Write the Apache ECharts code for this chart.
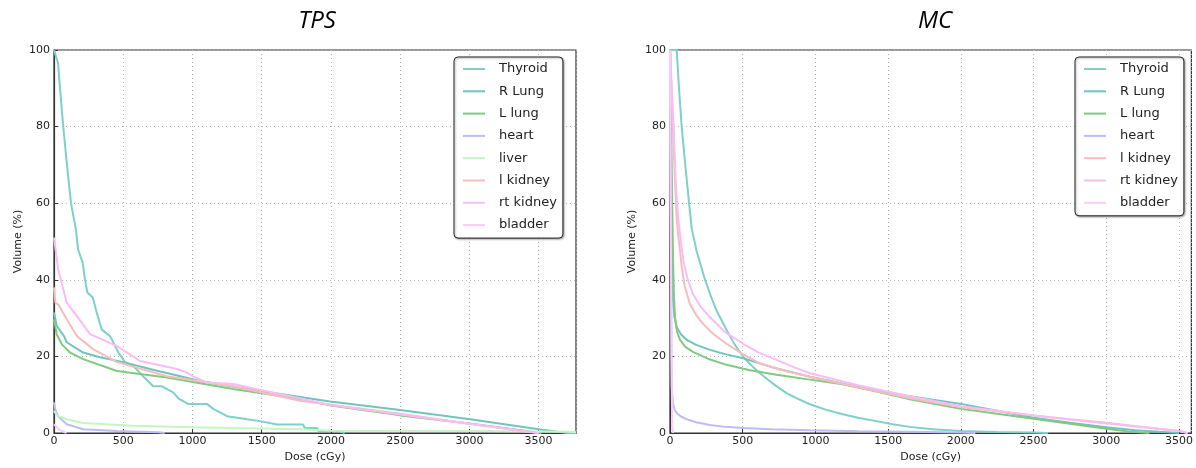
<!DOCTYPE html>
<html>
<head>
<meta charset="utf-8">
<script src="https://cdn.jsdelivr.net/npm/echarts@6/dist/echarts.min.js"></script>
<style>
html, body { margin: 0; padding: 0; background: #fff; }
#chart { width: 1196px; height: 468px; }
</style>
</head>
<body>
<div id="chart"></div>
<script>
// organ names, in legend order
var tpsNames = ['Thyroid', 'R Lung', 'L lung', 'heart', 'liver', 'l kidney', 'rt kidney', 'bladder'];
var mcNames = ['Thyroid', 'R Lung', 'L lung', 'heart', 'l kidney', 'rt kidney', 'bladder'];

var organColors = {
	'Thyroid': '#7fd0c9',
	'R Lung': '#6fc5be',
	'L lung': '#7fca7f',
	'heart': '#bcbcf7',
	'liver': '#c2f7c2',
	'l kidney': '#f8bcbc',
	'rt kidney': '#f8bcf8',
	'bladder': '#fbcbfb'
};

// TPS  [dose cGy, volume %]
var tpsThyroid = [[0,100],[29,96.6],[58,83.6],[67,80],[92,70.6],[123,60],[145,55.7],[159,53],[174,47.9],[207,44.5],[224,40],
	[241,36.7],[280,35.4],[308,31.5],[345,27],[405,25.3],[465,21],[513,18.5],[571,17.5],[600,16.5],[643,14.8],[716,12.2],
	[780,12.2],[860,10.6],[900,9],[968,7.6],[1105,7.6],[1150,6.3],[1250,4.4],[1394,3.6],[1488,3.1],[1611,2.2],[1800,2.2],
	[1810,1.3],[1900,1.3],[1910,0.5],[2050,0.5],[2100,0]];
var tpsRLung = [[0,31.5],[20,28],[72,25.3],[92,23.7],[210,21],[332,19.8],[500,18.5],[693,16.7],[1055,13.6],[1400,11.5],
	[1777,9.4],[1994,8.2],[2500,6],[3006,3.6],[3512,0.9],[3707,0],[3770,0]];
var tpsLLung = [[0,29.7],[19,25.8],[60,23],[116,21],[210,19.3],[455,16.2],[816,14.5],[1294,11.5],[1777,8.9],[2000,7.2],
	[2500,4.6],[3000,2.5],[3400,0.6],[3520,0]];
var tpsHeart = [[0,8],[10,6],[30,4.4],[92,2.3],[210,1.0],[455,0.5],[750,0.2],[800,0]];
var tpsLiver = [[0,5.8],[20,4.6],[92,3.6],[210,2.6],[571,1.9],[1000,1.5],[1777,1.0],[2000,0.6],[3000,0.5],[3700,0.3],[3770,0.2]];
var tpsLKidney = [[0,38],[10,34],[30,33.6],[92,29.7],[166,25.3],[282,21.9],[455,18.5],[816,14.8],[1294,12.2],[1777,8.4],
	[2000,7.4],[2500,5],[3000,2.4],[3400,0.5],[3500,0]];
var tpsRtKidney = [[0,51],[30,42.7],[92,34],[166,30.5],[260,25.8],[455,22.7],[621,18.8],[889,16.7],[960,15.8],[1004,14.8],
	[1100,13.2],[1294,12.8],[1727,9.4],[2000,7.3],[2500,4.8],[3000,2.4],[3400,0.4],[3500,0]];
var tpsBladder = [[0,2.3],[40,0.8],[90,0]];

// MC  [dose cGy, volume %]
var mcThyroid = [[0,100],[46,100],[62,90],[80,80.2],[105,70],[130,60.5],[149,53.5],[183,47.5],[240,40.1],[280,35.8],[320,32],
	[389,26.9],[440,23.4],[503,19.9],[560,17.6],[618,15.6],[700,13.1],[801,10.4],[880,8.9],[962,7.5],[1070,6.1],[1188,4.9],
	[1300,3.9],[1419,3.1],[1530,2.3],[1648,1.6],[1806,1.0],[2000,0.5],[2250,0.25],[2500,0.1],[2600,0]];
var mcRLung = [[0,100],[4,85],[8,65],[13,45],[20,35],[30,30.5],[46,27.6],[75,25.8],[115,24.3],[180,23],[275,21.7],[380,20.6],
	[503,19.5],[700,17.2],[962,14.7],[1300,12],[1648,9.6],[2000,7.6],[2250,5.8],[2500,4.0],[2750,2.7],[3000,1.5],
	[3200,0.7],[3365,0.3],[3500,0]];
var mcLLung = [[0,100],[8,80],[15,60],[21,45],[27,36],[34,30.2],[48,26.5],[69,24.3],[105,22.5],[158,21.2],[260,19.4],
	[389,17.8],[550,16.4],[733,15.2],[950,14],[1188,12.7],[1420,10.8],[1648,8.8],[2000,6.3],[2250,5],[2500,3.7],[2750,2.4],
	[3000,1.1],[3150,0.4],[3297,0]];
var mcHeart = [[0,100],[6,60],[9,30],[12,12],[20,7.8],[30,6.3],[46,5.2],[75,4.3],[115,3.6],[180,2.8],[275,2.1],[380,1.6],
	[503,1.3],[700,1.0],[962,0.7],[1300,0.45],[1648,0.3],[2000,0.1],[2100,0]];
var mcLKidney = [[0,100],[20,80],[35,65],[46,56],[58,51],[69,47.5],[80,43.6],[100,38.5],[137,33.7],[180,30.8],[227,28.5],
	[300,25.8],[389,23.3],[500,20.6],[618,18.2],[780,16.3],[962,14.7],[1300,11.9],[1648,9.1],[2000,6.8],[2250,5.7],
	[2500,4.6],[2750,3.6],[3000,2.7],[3250,1.6],[3500,0.5],[3560,0]];
var mcRtKidney = [[0,100],[25,80],[40,65],[57,56],[75,50],[92,45],[120,40.3],[158,36.3],[210,33],[275,30.2],[380,26.3],
	[503,23.3],[610,21],[733,19.1],[850,17.2],[962,15.6],[1300,12.4],[1648,9.6],[2000,7.0],[2250,5.8],[2500,4.6],
	[2750,3.5],[3000,2.5],[3250,1.5],[3500,0.5],[3560,0]];
var mcBladder = [[0,100],[5,60],[10,20],[15,2],[20,0]];

var tpsData = [tpsThyroid, tpsRLung, tpsLLung, tpsHeart, tpsLiver, tpsLKidney, tpsRtKidney, tpsBladder];
var mcData = [mcThyroid, mcRLung, mcLLung, mcHeart, mcLKidney, mcRtKidney, mcBladder];

var volumeTicks = [0, 20, 40, 60, 80, 100];

var font = 'DejaVu Sans';

function makeSeries(names, datas, idx) {
	var arr = [];
	for (var i = 0; i < names.length; i++) {
		arr.push({
			name: names[i],
			type: 'line',
			xAxisIndex: idx,
			yAxisIndex: idx,
			data: datas[i],
			showSymbol: false,
			symbol: 'none',
			color: organColors[names[i]],
			lineStyle: { width: 2, color: organColors[names[i]] }
		});
	}
	return arr;
}

function xAxis(idx, max) {
	return {
		gridIndex: idx,
		type: 'value',
		min: 0,
		max: max,
		interval: 500,
		name: 'Dose (cGy)',
		nameLocation: 'middle',
		nameGap: 19,
		nameTextStyle: { fontFamily: font, fontSize: 11, color: '#222' },
		axisLine: { show: true, lineStyle: { color: '#333', width: 1.2 } },
		axisTick: { show: true, inside: true, length: 4, lineStyle: { color: '#333' } },
		axisLabel: {
			fontFamily: font, fontSize: 11, color: '#222', margin: 3, showMaxLabel: false,
			formatter: function(v) { return String(v); }
		},
		splitLine: { show: true, lineStyle: { color: '#b4b4b4', type: [1, 3], width: 1 } }
	};
}

function yAxis(idx, gap) {
	return {
		gridIndex: idx,
		type: 'value',
		min: volumeTicks[0],
		max: volumeTicks[volumeTicks.length - 1],
		interval: 20,
		name: 'Volume (%)',
		nameLocation: 'middle',
		nameRotate: 90,
		nameGap: gap,
		nameTextStyle: { fontFamily: font, fontSize: 11, color: '#222' },
		axisLine: { show: true, lineStyle: { color: '#333', width: 1.2 } },
		axisTick: { show: true, inside: true, length: 4, lineStyle: { color: '#333' } },
		axisLabel: { fontFamily: font, fontSize: 11, color: '#222', margin: 4 },
		splitLine: { show: true, lineStyle: { color: '#b4b4b4', type: [1, 3], width: 1 } }
	};
}

function legend(names, left) {
	return {
		data: names,
		orient: 'vertical',
		left: left,
		top: 57,
		icon: 'rect',
		itemWidth: 22,
		itemHeight: 2,
		itemGap: 6.3,
		padding: [4, 6, 5, 9],
		backgroundColor: '#fff',
		borderColor: '#222',
		borderWidth: 1,
		borderRadius: 4,
		shadowColor: 'rgba(0,0,0,0.35)',
		shadowBlur: 2,
		shadowOffsetX: 1,
		shadowOffsetY: 1,
		selectedMode: false,
		formatter: function(n) { return '{a|' + n + '}'; },
		textStyle: {
			fontFamily: font, fontSize: 13, color: '#222', lineHeight: 16,
			rich: { a: { fontFamily: font, fontSize: 13, color: '#222', lineHeight: 16, padding: [0, 0, 0, 9] } }
		}
	};
}

var chart = echarts.init(document.getElementById('chart'));
chart.setOption({
	animation: false,
	backgroundColor: '#fff',
	title: [
		{ text: 'TPS', left: 317, top: 9, textAlign: 'center', padding: 0,
		  textStyle: { fontFamily: 'Open Sans', fontStyle: 'italic', fontWeight: 'normal', fontSize: 24, color: '#000' } },
		{ text: 'MC', left: 935, top: 9, textAlign: 'center', padding: 0,
		  textStyle: { fontFamily: 'Open Sans', fontStyle: 'italic', fontWeight: 'normal', fontSize: 24, color: '#000' } }
	],
	legend: [legend(tpsNames, 454), legend(mcNames, 1075)],
	grid: [
		{ left: 54, top: 50, width: 522, height: 384, show: true, borderColor: '#333', borderWidth: 1.2, backgroundColor: '#fff' },
		{ left: 670, top: 50, width: 522, height: 387, show: true, borderColor: '#333', borderWidth: 1.2, backgroundColor: '#fff' }
	],
	xAxis: [xAxis(0, 3770), xAxis(1, 3585)],
	yAxis: [yAxis(0, 30), yAxis(1, 32)],
	series: makeSeries(tpsNames, tpsData, 0).concat(makeSeries(mcNames, mcData, 1))
});
</script>
</body>
</html>
